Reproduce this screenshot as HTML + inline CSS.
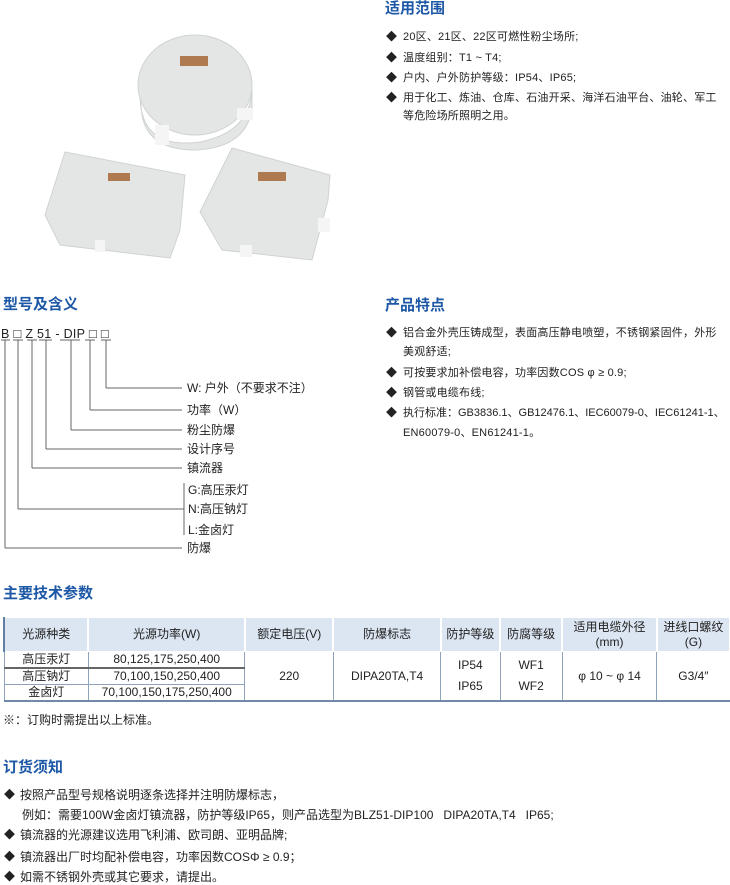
<!DOCTYPE html>
<html><head><meta charset="utf-8"><style>
body{margin:0;width:730px;height:881px;background:#fff;position:relative;overflow:hidden;font-family:"Liberation Sans","Noto Sans CJK SC",sans-serif;color:#222;}
.t{position:absolute;font-size:12px;line-height:16px;white-space:nowrap;}
.r .t,.t.r{font-size:11px;letter-spacing:0.2px;}
.h{position:absolute;font-size:15px;line-height:18px;font-weight:bold;color:#1d58a6;white-space:nowrap;}
.d{position:absolute;font-size:11px;line-height:16px;}
table{position:absolute;left:3px;top:617px;border-collapse:collapse;font-size:12px;}
td{border:1px solid #8da3bb;text-align:center;padding:0;line-height:15px;}
tr.hd td{background:#dce6f2;height:33px;border-color:#fff;border-left:2px solid #fff;}
tr.hd td:first-child{border-left:2px solid #5f7fa3}
tbody tr.rw td{height:15px;}
</style></head><body>
<svg width="730" height="881" style="position:absolute;left:0;top:0">
 <g fill="#e3e6e4" stroke="#cfd3d1">
  <path d="M140 95 Q140 150 200 142 Q250 132 252 90 L252 110 Q245 148 195 150 Q148 150 142 115Z"/>
  <ellipse cx="195" cy="85" rx="57" ry="50"/>
  <polygon points="65,152 185,175 180,230 170,258 60,245 45,215"/>
  <polygon points="232,148 330,175 328,200 312,260 222,250 200,212"/>
 </g>
 <g fill="#f4f5f4"><rect x="155" y="125" width="14" height="20"/><rect x="237" y="108" width="16" height="12"/><rect x="95" y="240" width="10" height="12"/><rect x="240" y="245" width="12" height="12"/><rect x="318" y="218" width="12" height="14"/></g>
 <g fill="#b07a50"><rect x="180" y="56" width="28" height="10"/><rect x="108" y="173" width="22" height="8"/><rect x="258" y="172" width="28" height="9"/></g>
 <g stroke="#666" stroke-width="1" fill="none">
  <line x1="5" y1="340" x2="5" y2="548"/><line x1="5" y1="548" x2="182" y2="548"/>
  <line x1="18" y1="340" x2="18" y2="509"/><line x1="18" y1="509" x2="184" y2="509"/>
  <line x1="32" y1="340" x2="32" y2="468"/><line x1="32" y1="468" x2="182" y2="468"/>
  <line x1="46" y1="340" x2="46" y2="449"/><line x1="46" y1="449" x2="182" y2="449"/>
  <line x1="71" y1="340" x2="71" y2="430"/><line x1="71" y1="430" x2="182" y2="430"/>
  <line x1="90" y1="340" x2="90" y2="410"/><line x1="90" y1="410" x2="182" y2="410"/>
  <line x1="106" y1="340" x2="106" y2="388"/><line x1="106" y1="388" x2="182" y2="388"/>
  <line x1="184" y1="483" x2="184" y2="535"/>
  <line x1="1" y1="340" x2="10" y2="340"/><line x1="13" y1="340" x2="23" y2="340"/><line x1="27" y1="340" x2="37" y2="340"/><line x1="39" y1="340" x2="52" y2="340"/><line x1="60" y1="340" x2="80" y2="340"/><line x1="85" y1="340" x2="95" y2="340"/><line x1="101" y1="340" x2="111" y2="340"/>
 </g>
</svg>
<div class="h" style="left:385px;top:0px">适用范围</div>
<div class="d" style="left:386px;top:29px">◆</div><div class="t r" style="left:403px;top:29px">20区、21区、22区可燃性粉尘场所;</div>
<div class="d" style="left:386px;top:50px">◆</div><div class="t r" style="left:403px;top:50px">温度组别：T1 ~ T4;</div>
<div class="d" style="left:386px;top:70px">◆</div><div class="t r" style="left:403px;top:70px">户内、户外防护等级：IP54、IP65;</div>
<div class="d" style="left:386px;top:90px">◆</div><div class="t r" style="left:403px;top:90px">用于化工、炼油、仓库、石油开采、海洋石油平台、油轮、军工</div>
<div class="t r" style="left:403px;top:108px">等危险场所照明之用。</div>

<div class="h" style="left:3px;top:296px">型号及含义</div>
<div class="t" style="left:1px;top:326px;font-size:12.5px;letter-spacing:0.3px">B <span style="font-size:13px">□</span> Z 51 - DIP <span style="font-size:13px">□ □</span></div>
<div class="t" style="left:187px;top:380px">W: 户外（不要求不注）</div>
<div class="t" style="left:187px;top:402px">功率（W）</div>
<div class="t" style="left:187px;top:422px">粉尘防爆</div>
<div class="t" style="left:187px;top:441px">设计序号</div>
<div class="t" style="left:187px;top:460px">镇流器</div>
<div class="t" style="left:188px;top:482px">G:高压汞灯</div>
<div class="t" style="left:188px;top:501px">N:高压钠灯</div>
<div class="t" style="left:188px;top:522px">L:金卤灯</div>
<div class="t" style="left:187px;top:540px">防爆</div>

<div class="h" style="left:385px;top:297px">产品特点</div>
<div class="d" style="left:386px;top:325px">◆</div><div class="t r" style="left:403px;top:325px">铝合金外壳压铸成型，表面高压静电喷塑，不锈钢紧固件，外形</div>
<div class="t r" style="left:403px;top:344px">美观舒适;</div>
<div class="d" style="left:386px;top:365px">◆</div><div class="t r" style="left:403px;top:365px">可按要求加补偿电容，功率因数COS φ ≥ 0.9;</div>
<div class="d" style="left:386px;top:385px">◆</div><div class="t r" style="left:403px;top:385px">钢管或电缆布线;</div>
<div class="d" style="left:386px;top:405px">◆</div><div class="t r" style="left:403px;top:405px;letter-spacing:0">执行标准：GB3836.1、GB12476.1、IEC60079-0、IEC61241-1、</div>
<div class="t r" style="left:403px;top:425px">EN60079-0、EN61241-1。</div>

<div class="h" style="left:3px;top:585px">主要技术参数</div>
<table>
<tr class="hd"><td style="width:84px">光源种类</td><td style="width:155px">光源功率(W)</td><td style="width:88px">额定电压(V)</td><td style="width:106px">防爆标志</td><td style="width:58px">防护等级</td><td style="width:61px">防腐等级</td><td style="width:94px">适用电缆外径<br>(mm)</td><td style="width:72px">进线口螺纹<br>(G)</td></tr>
<tr class="rw"><td>高压汞灯</td><td>80,125,175,250,400</td><td rowspan="3" style="border-bottom:2px solid #6f8aa8">220</td><td rowspan="3" style="border-bottom:2px solid #6f8aa8">DIPA20TA,T4</td><td rowspan="3" style="border-bottom:2px solid #6f8aa8;line-height:21px">IP54<br>IP65</td><td rowspan="3" style="border-bottom:2px solid #6f8aa8;line-height:21px">WF1<br>WF2</td><td rowspan="3" style="border-bottom:2px solid #6f8aa8">φ 10 ~ φ 14</td><td rowspan="3" style="border-bottom:2px solid #6f8aa8;border-right:none">G3/4″</td></tr>
<tr class="rw"><td style="border-top:2px solid #666">高压钠灯</td><td style="border-top:2px solid #666">70,100,150,250,400</td></tr>
<tr class="rw"><td style="border-bottom:2px solid #6f8aa8">金卤灯</td><td style="border-bottom:2px solid #6f8aa8">70,100,150,175,250,400</td></tr>
</table>
<div class="t" style="left:3px;top:712px">※：订购时需提出以上标准。</div>

<div class="h" style="left:3px;top:759px">订货须知</div>
<div class="d" style="left:4px;top:787px">◆</div><div class="t" style="left:20px;top:787px">按照产品型号规格说明逐条选择并注明防爆标志，</div>
<div class="t" style="left:22px;top:807px">例如：需要100W金卤灯镇流器，防护等级IP65，则产品选型为BLZ51-DIP100 &nbsp; DIPA20TA,T4 &nbsp; IP65;</div>
<div class="d" style="left:4px;top:827px">◆</div><div class="t" style="left:20px;top:827px">镇流器的光源建议选用飞利浦、欧司朗、亚明品牌;</div>
<div class="d" style="left:4px;top:849px">◆</div><div class="t" style="left:20px;top:849px">镇流器出厂时均配补偿电容，功率因数COSΦ ≥ 0.9；</div>
<div class="d" style="left:4px;top:869px">◆</div><div class="t" style="left:20px;top:869px">如需不锈钢外壳或其它要求，请提出。</div>
</body></html>
